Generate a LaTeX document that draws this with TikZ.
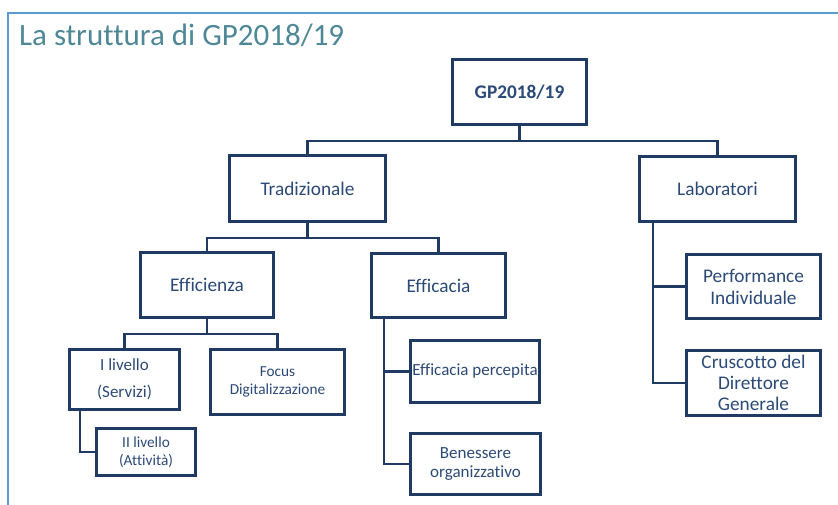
\documentclass[tikz,border=0pt]{standalone}
\usepackage{fontspec}
\setmainfont[Ligatures=NoCommon]{Carlito}
\definecolor{framecol}{HTML}{5B9BD5}
\definecolor{titlecol}{HTML}{4E8796}
\definecolor{boxcol}{HTML}{1F3B64}
\definecolor{textcol}{HTML}{2C4A78}
\begin{document}
\begin{tikzpicture}[x=1pt, y=-1pt,
  box/.style={draw=boxcol, line width=2.8pt, fill=white, text=textcol, align=center, inner sep=1pt},
  link/.style={draw=boxcol, line width=2.4pt},
  big/.style={font=\fontsize{19.3}{21}\selectfont},
  mid/.style={font=\fontsize{17}{19.5}\selectfont},
  small/.style={font=\fontsize{15.3}{17.5}\selectfont}]
  \useasboundingbox (0,0) rectangle (838,505);
  % Frame and title.
  \draw[framecol, line width=2pt] (8,505) -- (8,13) -- (838,13);
  \node[anchor=base west, inner sep=0, text=titlecol, font=\fontsize{31}{36}\selectfont]
    (title) at (19,46) {La struttura di GP2018/19};
  % Boxes.
  \node[box, big, minimum width=134pt, minimum height=65pt] (gp)    at (519.5,92)    {\textbf{GP2018/19}};
  \node[box, big, minimum width=156pt, minimum height=66pt] (trad)  at (307.5,188.5) {Tradizionale};
  \node[box, big, minimum width=156pt, minimum height=65pt] (lab)   at (717.5,189)   {Laboratori};
  \node[box, big, minimum width=133pt, minimum height=65pt] (effz)  at (207,285)     {Efficienza};
  \node[box, big, minimum width=134pt, minimum height=64pt] (effc)  at (438.5,285.5) {Efficacia};
  \node[box, mid, minimum width=129pt, minimum height=62pt] (perc)  at (475,371.5)   {Efficacia percepita};
  \node[box, mid, minimum width=130pt, minimum height=61pt] (ben)   at (475.5,464)   {Benessere\\organizzativo};
  \node[box, big, minimum width=134pt, minimum height=64pt] (perf)  at (753.5,286.5) {Performance\\[1pt]Individuale};
  \node[box, big, minimum width=134pt, minimum height=65pt] (crus)  at (753.5,383)   {Cruscotto del\\Direttore\\Generale};
  \node[box, mid, minimum width=110pt, minimum height=60pt] (ilev)  at (124.5,379.5) {I livello\\[7pt](Servizi)};
  \node[box, small, minimum width=134pt, minimum height=65pt] (focus) at (277.5,382) {Focus\\Digitalizzazione};
  \node[box, small, minimum width=99pt, minimum height=47pt] (iilev) at (146,452)    {II livello\\(Attività)};
  % Connectors.
  \draw[link] (gp.south) -- ++(0,15) coordinate (gpbus) -| (trad.north);
  \draw[link] (gpbus) -| (lab.north);
  \draw[link] (trad.south) -- ++(0,15) coordinate (tradbus) -| (effz.north);
  \draw[link] (tradbus) -| (effc.north);
  \draw[link] (effz.south) -- ++(0,15) coordinate (effzbus) -| (ilev.north);
  \draw[link] (effzbus) -| (focus.north);
  \draw[link] ([xshift=12pt]ilev.south west) |- (iilev.west);
  \draw[link] ([xshift=14pt]effc.south west) |- (perc.west);
  \draw[link] ([xshift=14pt]effc.south west) |- (ben.west);
  \draw[link] ([xshift=15pt]lab.south west) |- (perf.west);
  \draw[link] ([xshift=15pt]lab.south west) |- (crus.west);
\end{tikzpicture}
\end{document}
